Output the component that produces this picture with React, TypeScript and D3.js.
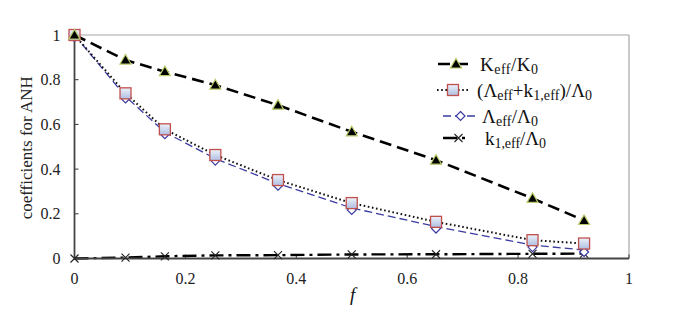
import React from "react";
import * as d3 from "d3";

const fVals = [0, 0.092, 0.163, 0.254, 0.367, 0.5, 0.652, 0.826, 0.919];
const kRatio = [1, 0.888, 0.836, 0.776, 0.686, 0.567, 0.44, 0.269, 0.17];
const sumRatio = [1, 0.739, 0.578, 0.463, 0.351, 0.248, 0.164, 0.082, 0.067];
const lamRatio = [1, 0.725, 0.565, 0.447, 0.335, 0.226, 0.143, 0.06, 0.038];
const k1Ratio = [0, 0.004, 0.01, 0.014, 0.015, 0.018, 0.019, 0.021, 0.022];
const xTicks = [0, 0.2, 0.4, 0.6, 0.8, 1];
const yTicks = [0, 0.2, 0.4, 0.6, 0.8, 1];

const W = 686;
const H = 328;
const FONT = "Liberation Serif";

export default function App() {
  const x = d3.scaleLinear().domain([0, 1]).range([74.5, 629]);
  const y = d3.scaleLinear().domain([0, 1]).range([258.5, 35]);

  const mk = (vals: number[]) =>
    d3
      .line<number>()
      .x((_, i) => x(fVals[i]))
      .y((v) => y(v))(vals) as string;

  const tri = (cx: number, cy: number, key: string | number) => (
    <path
      key={key}
      d={`M${cx},${cy - 5.5}L${cx + 5.5},${cy + 4}L${cx - 5.5},${cy + 4}Z`}
      fill="#000"
      stroke="#b8cc6a"
      strokeWidth={1.2}
    />
  );
  const sq = (cx: number, cy: number, key: string | number) => (
    <rect
      key={key}
      x={cx - 5.5}
      y={cy - 5.5}
      width={11}
      height={11}
      fill="url(#sqGrad)"
      stroke="#c0504d"
      strokeWidth={1.3}
    />
  );
  const dia = (cx: number, cy: number, key: string | number) => (
    <path
      key={key}
      d={`M${cx},${cy - 4.5}L${cx + 4.5},${cy}L${cx},${cy + 4.5}L${cx - 4.5},${cy}Z`}
      fill="#fff"
      stroke="#3b3ba0"
      strokeWidth={1.2}
    />
  );
  const cross = (cx: number, cy: number, key: string | number) => (
    <path
      key={key}
      d={`M${cx - 4},${cy - 4}L${cx + 4},${cy + 4}M${cx + 4},${cy - 4}L${cx - 4},${cy + 4}`}
      stroke="#222"
      strokeWidth={1.1}
      fill="none"
    />
  );

  const x0 = x(0);
  const x1 = x(1);
  const y0 = y(0);
  const y1 = y(1);

  const legendItems = [
    { y: 64, x1: 438, x2: 474, tx: 480, len: 58 },
    { y: 90, x1: 437, x2: 469, tx: 477, len: 115 },
    { y: 116, x1: 443, x2: 478, tx: 482, len: 56 },
    { y: 138, x1: 443, x2: 466, tx: 485, len: 61 },
  ];
  const ts = { fontFamily: FONT };
  const MAIN = 19;
  const SUB = 14;

  return (
    <div style={{ position: "fixed", left: 0, top: 0, width: W, height: H, background: "#fff" }}>
      <svg width={W} height={H} style={{ display: "block", fontFamily: FONT }}>
        <defs>
          <linearGradient id="sqGrad" x1="0" y1="0" x2="0" y2="1">
            <stop offset="0" stopColor="#eef2fa" />
            <stop offset="1" stopColor="#aebfe2" />
          </linearGradient>
        </defs>
        <rect x={0} y={0} width={W} height={H} fill="#fff" />
        {/* plot frame */}
        <line x1={x0} y1={y1} x2={x1} y2={y1} stroke="#a6a6a6" strokeWidth={1.2} />
        <line x1={x1} y1={y1} x2={x1} y2={y0} stroke="#a6a6a6" strokeWidth={1.2} />

        {/* y ticks */}
        {yTicks.map((t) => (
          <g key={"y" + t}>
            <line x1={x0} x2={x0 + 4} y1={y(t)} y2={y(t)} stroke="#333" strokeWidth={1} />
            <text x={60.5} y={y(t) + 5.5} textAnchor="end" fontSize={16} fill="#222" style={ts}>
              {String(t)}
            </text>
          </g>
        ))}
        {/* x ticks */}
        {xTicks.map((t) => (
          <g key={"x" + t}>
            <line x1={x(t)} x2={x(t)} y1={y0} y2={y0 - 4} stroke="#333" strokeWidth={1} />
            <text x={x(t)} y={283.5} textAnchor="middle" fontSize={16} fill="#222" style={ts}>
              {String(t)}
            </text>
          </g>
        ))}

        {/* series lines */}
        <path d={mk(kRatio)} fill="none" stroke="#000" strokeWidth={2.6} strokeDasharray="12,6" />
        <path d={mk(lamRatio)} fill="none" stroke="#3b3ba0" strokeWidth={1.3} strokeDasharray="8,4" />
        <path d={mk(sumRatio)} fill="none" stroke="#111" strokeWidth={2} strokeDasharray="1.6,2.6" />
        <path d={mk(k1Ratio)} fill="none" stroke="#000" strokeWidth={2.4} strokeDasharray="14,5,3,5" />

        {/* axes */}
        <line x1={x0} y1={y1} x2={x0} y2={y0} stroke="#444" strokeWidth={1.8} />
        <line x1={x0} y1={y0} x2={x1} y2={y0} stroke="#444" strokeWidth={1.8} />

        {/* markers */}
        {k1Ratio.map((v, i) => cross(x(fVals[i]), y(v), "c" + i))}
        {lamRatio.map((v, i) => dia(x(fVals[i]), y(v) + 2, "d" + i))}
        {sumRatio.map((v, i) => sq(x(fVals[i]), y(v), "s" + i))}
        {kRatio.map((v, i) => tri(x(fVals[i]), y(v), "t" + i))}

        {/* axis titles */}
        <text x={x(0.5) + 1} y={301} textAnchor="middle" fontSize={19} fontStyle="italic" fill="#111" style={ts}>
          f
        </text>
        <text
          transform={`translate(32,${(y0 + y1) / 2 + 1}) rotate(-90)`}
          textAnchor="middle"
          fontSize={17}
          fill="#222"
          style={ts}
        >
          coefficients for ANH
        </text>

        {/* legend */}
        <g>
          <line x1={legendItems[0].x1} x2={legendItems[0].x2} y1={legendItems[0].y} y2={legendItems[0].y} stroke="#000" strokeWidth={2.6} strokeDasharray="12,6" />
          {tri((legendItems[0].x1 + legendItems[0].x2) / 2, legendItems[0].y, "lt")}
          <text x={legendItems[0].tx} y={legendItems[0].y + 7} fontSize={MAIN} fill="#111" style={ts} textLength={legendItems[0].len} lengthAdjust="spacing">
            K<tspan fontSize={SUB} dy={3}>eff</tspan>
            <tspan dy={-3}>/K</tspan>
            <tspan fontSize={SUB} dy={3}>0</tspan>
          </text>

          <line x1={legendItems[1].x1} x2={legendItems[1].x2} y1={legendItems[1].y} y2={legendItems[1].y} stroke="#111" strokeWidth={2} strokeDasharray="1.6,2.6" />
          {sq((legendItems[1].x1 + legendItems[1].x2) / 2, legendItems[1].y, "ls")}
          <text x={legendItems[1].tx} y={legendItems[1].y + 7} fontSize={MAIN} fill="#111" style={ts} textLength={legendItems[1].len} lengthAdjust="spacing">
            (Λ<tspan fontSize={SUB} dy={3}>eff</tspan>
            <tspan dy={-3}>+k</tspan>
            <tspan fontSize={SUB} dy={3}>1,eff</tspan>
            <tspan dy={-3}>)/Λ</tspan>
            <tspan fontSize={SUB} dy={3}>0</tspan>
          </text>

          <line x1={legendItems[2].x1} x2={legendItems[2].x2} y1={legendItems[2].y} y2={legendItems[2].y} stroke="#3b3ba0" strokeWidth={1.3} strokeDasharray="8,4" />
          {dia((legendItems[2].x1 + legendItems[2].x2) / 2, legendItems[2].y, "ld")}
          <text x={legendItems[2].tx} y={legendItems[2].y + 7} fontSize={MAIN} fill="#111" style={ts} textLength={legendItems[2].len} lengthAdjust="spacing">
            Λ<tspan fontSize={SUB} dy={3}>eff</tspan>
            <tspan dy={-3}>/Λ</tspan>
            <tspan fontSize={SUB} dy={3}>0</tspan>
          </text>

          <line x1={legendItems[3].x1} x2={legendItems[3].x2} y1={legendItems[3].y} y2={legendItems[3].y} stroke="#000" strokeWidth={2.4} strokeDasharray="14,5,3,5" />
          {cross((legendItems[3].x1 + legendItems[3].x2) / 2 + 4, legendItems[3].y, "lc")}
          <text x={legendItems[3].tx} y={legendItems[3].y + 7} fontSize={MAIN} fill="#111" style={ts} textLength={legendItems[3].len} lengthAdjust="spacing">
            k<tspan fontSize={SUB} dy={3}>1,eff</tspan>
            <tspan dy={-3}>/Λ</tspan>
            <tspan fontSize={SUB} dy={3}>0</tspan>
          </text>
        </g>
      </svg>
    </div>
  );
}
